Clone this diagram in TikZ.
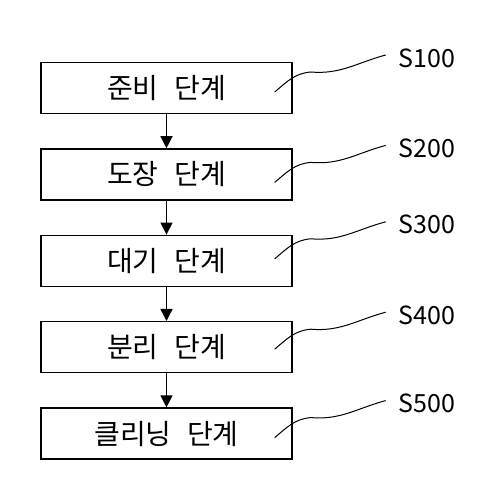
\documentclass[tikz,border=0pt]{standalone}
\usepackage{fontspec}
\setmainfont{Noto Sans CJK KR}[WordSpace=2.5]
\usetikzlibrary{positioning, arrows.meta}
\tikzset{
    stepbox/.style={draw, line width=1.4pt, minimum width=251pt,
        minimum height=51pt, font=\fontsize{28}{34}\selectfont},
    steplabel/.style={anchor=west, inner sep=0pt,
        font=\fontsize{25}{30}\selectfont},
    flow/.style={line width=1.4pt, -{Triangle[length=12pt, width=12pt]}},
    leader/.style={line width=1pt},
}

\begin{document}
\begin{tikzpicture}[x=1pt, y=1pt]
        \useasboundingbox (0, 0) rectangle (493, 490);
        \node[stepbox] (b1) at (166.5, 402) {준비 단계}; % Preparation
        \node[stepbox, below=34pt of b1] (b2) {도장 단계}; % Coating
        \node[stepbox, below=34pt of b2] (b3) {대기 단계}; % Waiting
        \node[stepbox, below=34pt of b3] (b4) {분리 단계}; % Separation
        \node[stepbox, below=34pt of b4] (b5) {클리닝 단계}; % Cleaning
        \foreach \i/\j in {1/2, 2/3, 3/4, 4/5}{
            \draw[flow] (b\i) -- (b\j); % Step arrow
        }
        \foreach \i/\lbl/\lift in {1/S100/30, 2/S200/26, 3/S300/36,
            4/S400/32, 5/S500/30}{
            \node[steplabel] (l\i) at ([xshift=106pt, yshift=\lift pt]b\i.east)
                {\lbl}; % Step number
            \coordinate (s\i) at ([xshift=-18pt, yshift={(\lift-34)*1pt}]b\i.east);
            \draw[leader] (s\i) to[out=40, in=185] ++(36, 20)
                to[out=-5, in=195] ([xshift=-13pt, yshift=3pt]l\i.west);
                % Leader line
        }
    \end{tikzpicture}
\end{document}
